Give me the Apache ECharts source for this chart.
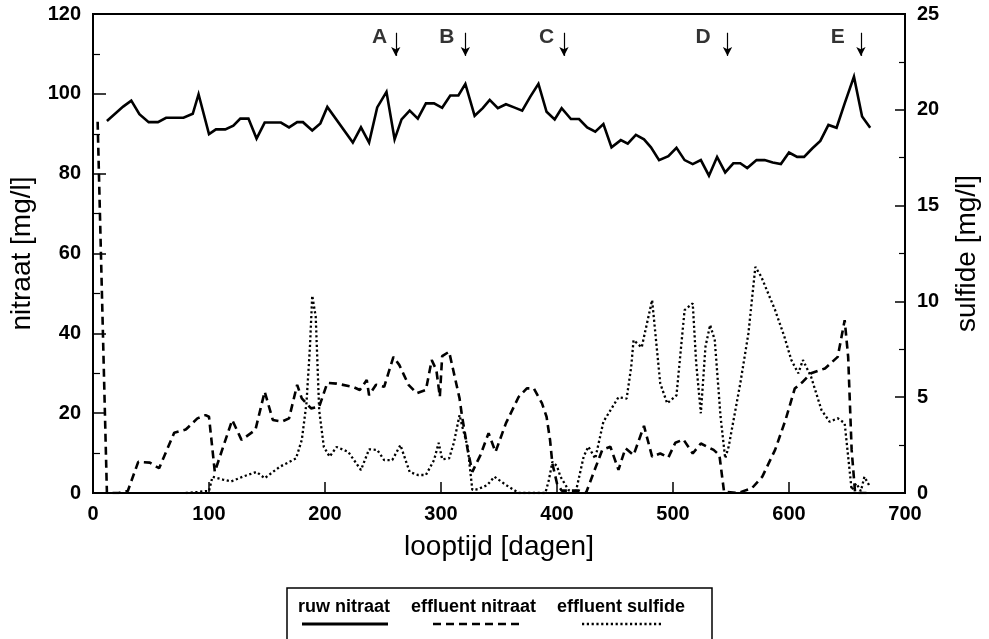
<!DOCTYPE html>
<html>
<head>
<meta charset="utf-8">
<script src="https://cdn.jsdelivr.net/npm/echarts@6/dist/echarts.min.js"></script>
<style>
  html, body { margin: 0; padding: 0; background: #fff; }
  #chart { width: 989px; height: 639px; }
</style>
</head>
<body>
<div id="chart"></div>
<script>
// Raw influent nitrate (mg/l) per run day
const ruwDays = [12,26,33,40,48,56,63,70,78,86,91,100,106,114,121,127,134,141,148,155,162,169,176,181,189,196,202,224,231,238,245,253,260,266,273,280,287,294,301,308,315,321,329,336,342,349,356,363,370,377,384,391,398,404,412,419,426,433,440,447,455,461,468,475,481,488,496,503,510,517,524,531,538,545,552,558,564,572,579,586,593,600,607,613,620,627,634,641,648,656,663,670];
const ruwNitraat = [93.2,96.8,98.3,94.9,92.9,92.9,94.0,94.0,94.0,95.0,99.9,89.9,91.1,91.1,92.0,93.8,93.8,88.8,92.8,92.8,92.8,91.6,92.9,92.9,90.8,92.6,96.7,87.8,91.6,87.8,96.6,100.5,88.6,93.6,95.8,93.8,97.6,97.6,96.5,99.6,99.6,102.5,94.5,96.4,98.5,96.4,97.4,96.6,95.8,99.3,102.5,95.5,93.6,96.4,93.7,93.7,91.6,90.5,92.4,86.6,88.4,87.5,89.7,88.6,86.6,83.4,84.4,86.5,83.4,82.4,83.4,79.5,84.2,80.3,82.6,82.6,81.4,83.4,83.4,82.8,82.4,85.3,84.2,84.2,86.3,88.2,92.2,91.5,97.6,104.3,94.3,91.5];

// Effluent nitrate (mg/l)
const effNDays = [4,12,22,30,39,49,57,70,80,90,97,100,105,120,128,140,148,155,163,169,176,180,188,195,202,210,224,230,236,238,244,251,259,264,268,272,279,287,292,296,299,301,307,316,318,323,327,334,341,347,356,367,374,380,387,391,394,396,400,404,419,425,433,439,446,453,459,466,475,482,489,496,502,509,517,524,535,540,544,556,568,577,588,597,605,612,619,631,642,648,651,654,657,668];
const effluentNitraat = [93,0,0,0.5,7.8,7.6,6.2,15.1,15.9,18.7,19.5,19.1,5.3,18.3,13.3,15.8,25.4,18.3,17.9,18.7,27.1,23.7,21.2,21.6,27.6,27.4,26.6,25.8,28.3,24.5,27.1,26.6,34.1,32.1,29.6,27.1,25.0,25.8,33.3,30.8,24.1,34.3,35.4,23.7,19.5,10.8,5.3,9.5,15.0,10.3,17.5,24.1,26.2,26.2,22.5,19.1,13.3,7.4,2.4,0.6,0.6,0,6.2,10.8,11.6,5.8,11.2,9.5,16.8,9.1,9.9,8.9,12.6,13.4,9.9,12.4,10.8,9.5,0.3,0,1.2,4.1,10.8,18.3,26.2,27.9,30.0,31.2,34.1,43.3,34.1,10.8,0,0];

// Effluent sulfide (mg/l, right axis)
const effSDays = [80,90,97,100,103,112,119,129,141,148,161,175,180,184,187,189,192,195,199,204,210,220,231,238,245,251,258,265,273,280,287,294,298,301,307,311,316,318,323,327,332,340,346,356,367,390,393,396,400,403,410,416,423,427,433,440,453,460,464,466,473,482,489,495,503,510,517,520,524,528,532,536,541,545,548,558,565,571,576,588,596,602,608,612,619,628,635,642,648,654,658,662,665,670];
const effluentSulfide = [0,0.05,0.1,0.1,0.85,0.7,0.6,0.85,1.1,0.77,1.37,1.8,2.77,4.68,7.6,10.3,9.2,4.3,2.4,1.9,2.4,2.15,1.2,2.28,2.25,1.72,1.72,2.5,1.1,0.94,0.94,1.72,2.62,1.76,1.81,2.6,4.07,3.55,2.4,0.16,0.2,0.42,0.85,0.42,0,0,0.68,1.63,1.4,0.85,0.15,0,1.9,2.42,1.8,3.72,5.0,4.93,6.6,7.98,7.6,10.07,5.72,4.68,5.1,9.55,9.9,6.77,4.16,7.64,8.77,7.98,3.98,1.81,2.42,5.72,8.33,11.8,11.3,9.55,8.16,6.94,6.25,6.94,6.07,4.33,3.72,3.9,3.64,0.16,0.5,0.1,0.85,0.3];

// Phase markers A-E
const markLetters = ['A','B','C','D','E'];
const markArrowDays = [261,321,406,547,662];
const markLabelDays = [247,305,391,526,642];

// Axis tick values
const xTicks = [0,100,200,300,400,500,600,700];
const yLeftTicks = [0,20,40,60,80,100,120];
const yRightTicks = [0,5,10,15,20,25];

const FONT = "'Liberation Sans', Arial, Helvetica, sans-serif";
const zip = (xs, ys) => xs.map((x, i) => [x, ys[i]]);

const chart = echarts.init(document.getElementById('chart'), null, { renderer: 'canvas' });

const axisLineStyle = { lineStyle: { color: '#000', width: 2 } };
const tickLabel = { color: '#000', fontFamily: FONT, fontWeight: 'bold', fontSize: 20 };
const nameStyle = { color: '#000', fontFamily: FONT, fontSize: 28 };

chart.setOption({
  animation: false,
  backgroundColor: '#fff',
  grid: { left: 93, right: 82, top: 14, bottom: 146, show: true, borderColor: '#000', borderWidth: 2, containLabel: false },
  xAxis: {
    type: 'value',
    min: xTicks[0], max: xTicks[xTicks.length - 1], interval: 100,
    axisLine: axisLineStyle,
    axisTick: { inside: true, length: 11, lineStyle: { color: '#000', width: 1.5 } },
    axisLabel: Object.assign({ margin: 11 }, tickLabel),
    splitLine: { show: false },
    name: 'looptijd [dagen]', nameLocation: 'middle', nameGap: 40, nameTextStyle: nameStyle
  },
  yAxis: [{
    type: 'value',
    min: yLeftTicks[0], max: yLeftTicks[yLeftTicks.length - 1], interval: 20,
    axisLine: axisLineStyle,
    axisTick: { inside: true, length: 13, lineStyle: { color: '#000', width: 1.5 } },
    minorTick: { show: true, splitNumber: 2, length: 7, lineStyle: { color: '#000', width: 1.2 } },
    axisLabel: Object.assign({ margin: 12 }, tickLabel),
    splitLine: { show: false },
    name: 'nitraat [mg/l]', nameLocation: 'middle', nameGap: 56, nameRotate: 90, nameTextStyle: nameStyle
  }, {
    type: 'value', position: 'right',
    min: yRightTicks[0], max: yRightTicks[yRightTicks.length - 1], interval: 5,
    axisLine: axisLineStyle,
    axisTick: { inside: true, length: 10, lineStyle: { color: '#000', width: 1.5 } },
    minorTick: { show: true, splitNumber: 2, length: 6, lineStyle: { color: '#000', width: 1.2 } },
    axisLabel: Object.assign({ margin: 12 }, tickLabel),
    splitLine: { show: false },
    name: 'sulfide [mg/l]', nameLocation: 'middle', nameGap: 48, nameRotate: 90, nameTextStyle: nameStyle
  }],
  series: [{
    name: 'ruw nitraat', type: 'line', yAxisIndex: 0,
    data: zip(ruwDays, ruwNitraat),
    showSymbol: false, symbol: 'none',
    lineStyle: { color: '#000', width: 2.6, join: 'miter' },
    markLine: {
      silent: true, symbol: ['none', 'arrow'], symbolSize: [7, 9], label: { show: false },
      lineStyle: { color: '#000', width: 1.2, type: 'solid' },
      data: markArrowDays.map(d => [{ coord: [d, 115.3] }, { coord: [d, 109.5] }])
    }
  }, {
    name: 'effluent nitraat', type: 'line', yAxisIndex: 0,
    data: zip(effNDays, effluentNitraat),
    showSymbol: false, symbol: 'none',
    lineStyle: { color: '#000', width: 2.6, type: [8, 5] }
  }, {
    name: 'effluent sulfide', type: 'line', yAxisIndex: 1,
    data: zip(effSDays, effluentSulfide),
    showSymbol: false, symbol: 'none',
    lineStyle: { color: '#000', width: 2.3, type: [2.2, 2.6] }
  }, {
    name: 'markers', type: 'scatter', yAxisIndex: 0,
    symbolSize: 0,
    data: markLabelDays.map((d, i) => ({ value: [d, 114.3], letter: markLetters[i] })),
    label: {
      show: true, position: 'inside',
      formatter: p => p.data.letter,
      color: '#000', fontFamily: FONT, fontWeight: 'bold', fontSize: 21
    }
  }],
  graphic: [
    { type: 'rect', shape: { x: 287, y: 588, width: 425, height: 70 }, style: { fill: 'none', stroke: '#000', lineWidth: 1.5 } },
    { type: 'text', x: 298, y: 607, style: { text: 'ruw nitraat', fill: '#000', font: 'bold 18px ' + FONT, textVerticalAlign: 'middle' } },
    { type: 'text', x: 411, y: 607, style: { text: 'effluent nitraat', fill: '#000', font: 'bold 18px ' + FONT, textVerticalAlign: 'middle' } },
    { type: 'text', x: 557, y: 607, style: { text: 'effluent sulfide', fill: '#000', font: 'bold 18px ' + FONT, textVerticalAlign: 'middle' } },
    { type: 'line', shape: { x1: 302, y1: 624, x2: 388, y2: 624 }, style: { stroke: '#000', lineWidth: 3 } },
    { type: 'line', shape: { x1: 433, y1: 624, x2: 520, y2: 624 }, style: { stroke: '#000', lineWidth: 2.5, lineDash: [8, 5] } },
    { type: 'line', shape: { x1: 582, y1: 624, x2: 662, y2: 624 }, style: { stroke: '#000', lineWidth: 2.3, lineDash: [2.2, 2.6] } }
  ]
});
</script>
</body>
</html>
